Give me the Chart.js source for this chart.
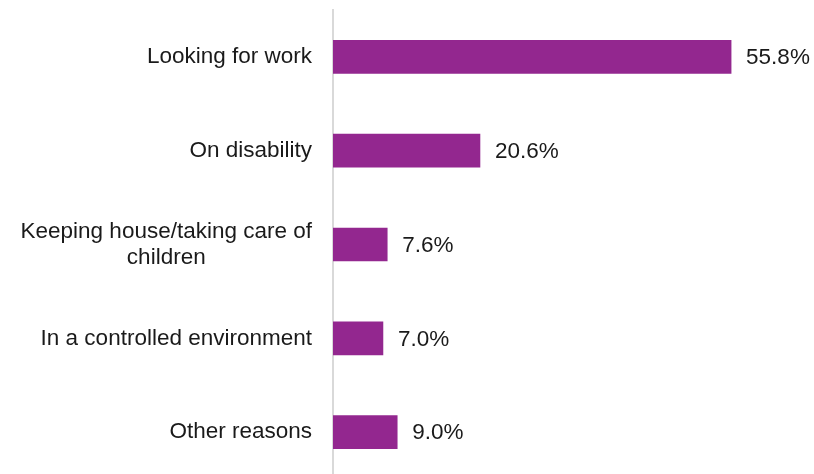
<!DOCTYPE html>
<html>
<head>
<meta charset="utf-8">
<script src="https://cdn.jsdelivr.net/npm/chart.js@4/dist/chart.umd.min.js"></script>
<style>
  html, body { margin: 0; padding: 0; background: #fff; overflow: hidden; }
</style>
</head>
<body>
<canvas id="myChart" width="814" height="480"></canvas>
<script>
// reasons for not working
const categories = [
  'Looking for work',
  'On disability',
  ['Keeping house/taking care of', 'children'],
  'In a controlled environment',
  'Other reasons'
];
const shares = [55.8, 20.6, 7.6, 7.0, 9.0];

const FONT = "'Liberation Sans', Arial, sans-serif";
const TEXT = '#1a1a1a';

// value labels at the end of each bar + category labels (multi-line ones centred)
const labelsPlugin = {
  id: 'labelsPlugin',
  afterDatasetsDraw(chart) {
    const ctx = chart.ctx;
    const meta = chart.getDatasetMeta(0);
    const right = chart.chartArea.left - 21;
    ctx.save();
    ctx.font = '22.5px ' + FONT;
    ctx.fillStyle = TEXT;
    ctx.textBaseline = 'middle';
    meta.data.forEach((bar, i) => {
      ctx.textAlign = 'left';
      ctx.fillText(shares[i].toFixed(1) + '%', bar.x + 15, bar.y + 1);

      const lines = [].concat(categories[i]);
      const lineH = 26;
      const w = Math.max(...lines.map(l => ctx.measureText(l).width));
      const top = bar.y - (lines.length - 1) * lineH / 2;
      ctx.textAlign = lines.length > 1 ? 'center' : 'right';
      const x = lines.length > 1 ? right - w / 2 : right;
      lines.forEach((l, j) => ctx.fillText(l, x, top + j * lineH));
    });
    ctx.restore();
  }
};

const ctx = document.getElementById('myChart');
new Chart(ctx, {
  type: 'bar',
  data: {
    labels: categories,
    datasets: [{
      data: shares,
      backgroundColor: '#93278F',
      barThickness: 33
    }]
  },
  plugins: [labelsPlugin],
  options: {
    indexAxis: 'y',
    responsive: false,
    animation: false,
    layout: { padding: { top: 10, bottom: 1, right: 3 } },
    plugins: {
      legend: { display: false },
      tooltip: { enabled: false }
    },
    scales: {
      x: {
        display: false,
        min: 0,
        max: 67
      },
      y: {
        afterFit: (scale) => { scale.width = 333; },
        grid: { display: false, drawTicks: false },
        border: { color: '#d9d9d9', width: 2 },
        ticks: { display: false }
      }
    }
  }
});
</script>
</body>
</html>
